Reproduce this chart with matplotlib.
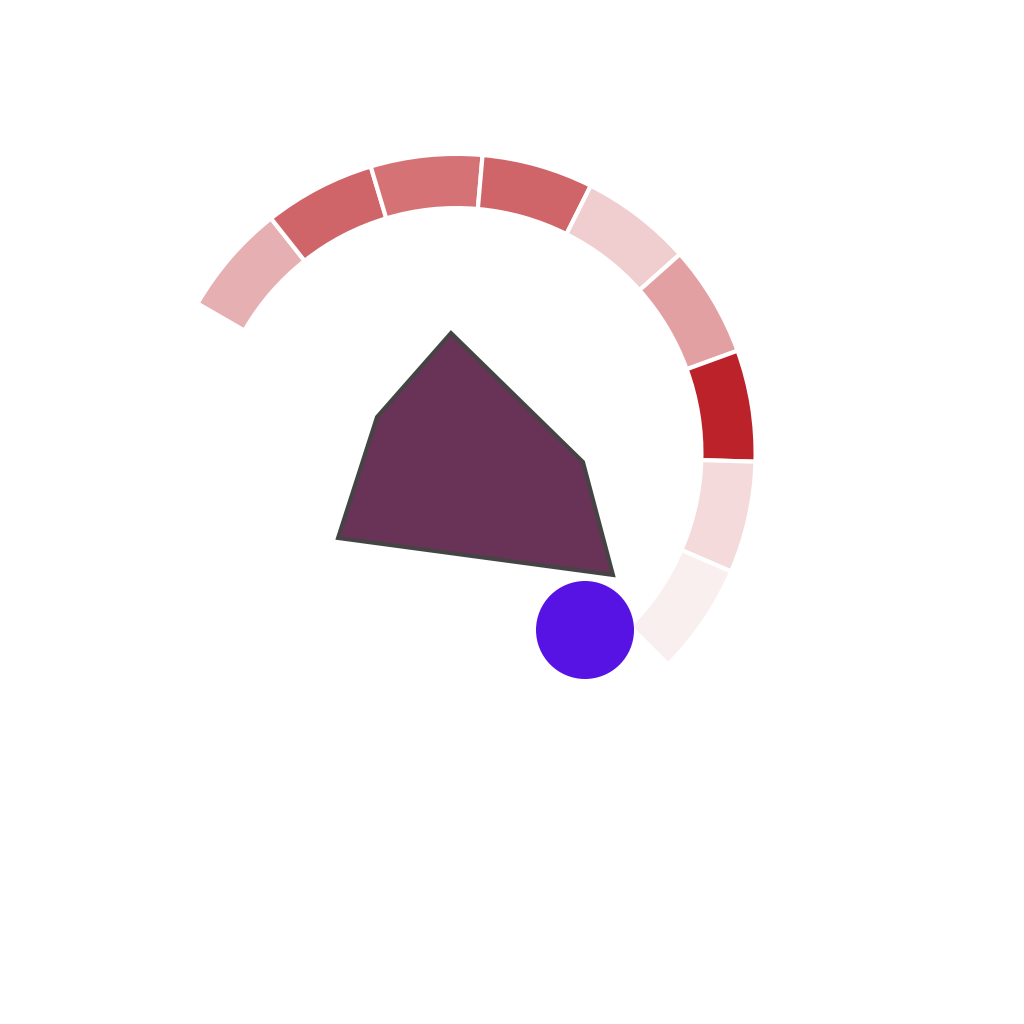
import numpy as np
import matplotlib
matplotlib.use('Agg')
import matplotlib.pyplot as plt
from matplotlib.patches import Wedge, Polygon
from matplotlib.colors import LinearSegmentedColormap

# gauge ring: one value per segment (0..1), drawn clockwise from start angle
ring_values = [0.36, 0.70, 0.64, 0.70, 0.22, 0.43, 1.0, 0.17, 0.077]
ring_start_deg = 150.0
ring_span_deg = 195.0
ring_outer = 297
ring_inner = 247

# polygon shape (x, y in pixel units around the gauge centre, y up)
shape_x = [-5.5, -79.5, -118.5, 156.5, 126.5]
shape_y = [120.0, 36.0, -85.0, -122.0, -9.0]

# marker dot
dot_x = [128.5]
dot_y = [-177.0]

cmap = LinearSegmentedColormap.from_list('gauge', ['#ffffff', '#bb2229'])

fig = plt.figure(figsize=(10.24, 10.24), dpi=100)
ax = fig.add_axes([0, 0, 1, 1])
ax.set_xlim(-456.5, 1024 - 456.5)
ax.set_ylim(453 - 1024, 453)
ax.set_aspect('equal')
ax.axis('off')

# ring segments
step = ring_span_deg / len(ring_values)
lw = 3.0
pad = lw * 100 / 72 / 2
for i, v in enumerate(ring_values):
    t2 = ring_start_deg - i * step
    t1 = t2 - step
    w = Wedge((0, 0), ring_outer + pad, t1, t2, width=ring_outer - ring_inner + 2 * pad,
              facecolor=cmap(v), edgecolor='white', linewidth=lw)
    ax.add_patch(w)

# polygon
poly = Polygon(np.column_stack([shape_x, shape_y]), closed=True,
               facecolor='#693358', edgecolor='#444444', linewidth=2.9,
               joinstyle='miter', zorder=3)
ax.add_patch(poly)

# dot
ax.scatter(dot_x, dot_y, s=(98 * 72 / 100) ** 2, color='#5613e4',
           edgecolors='none', zorder=4)

fig.savefig('out.png', dpi=100)
